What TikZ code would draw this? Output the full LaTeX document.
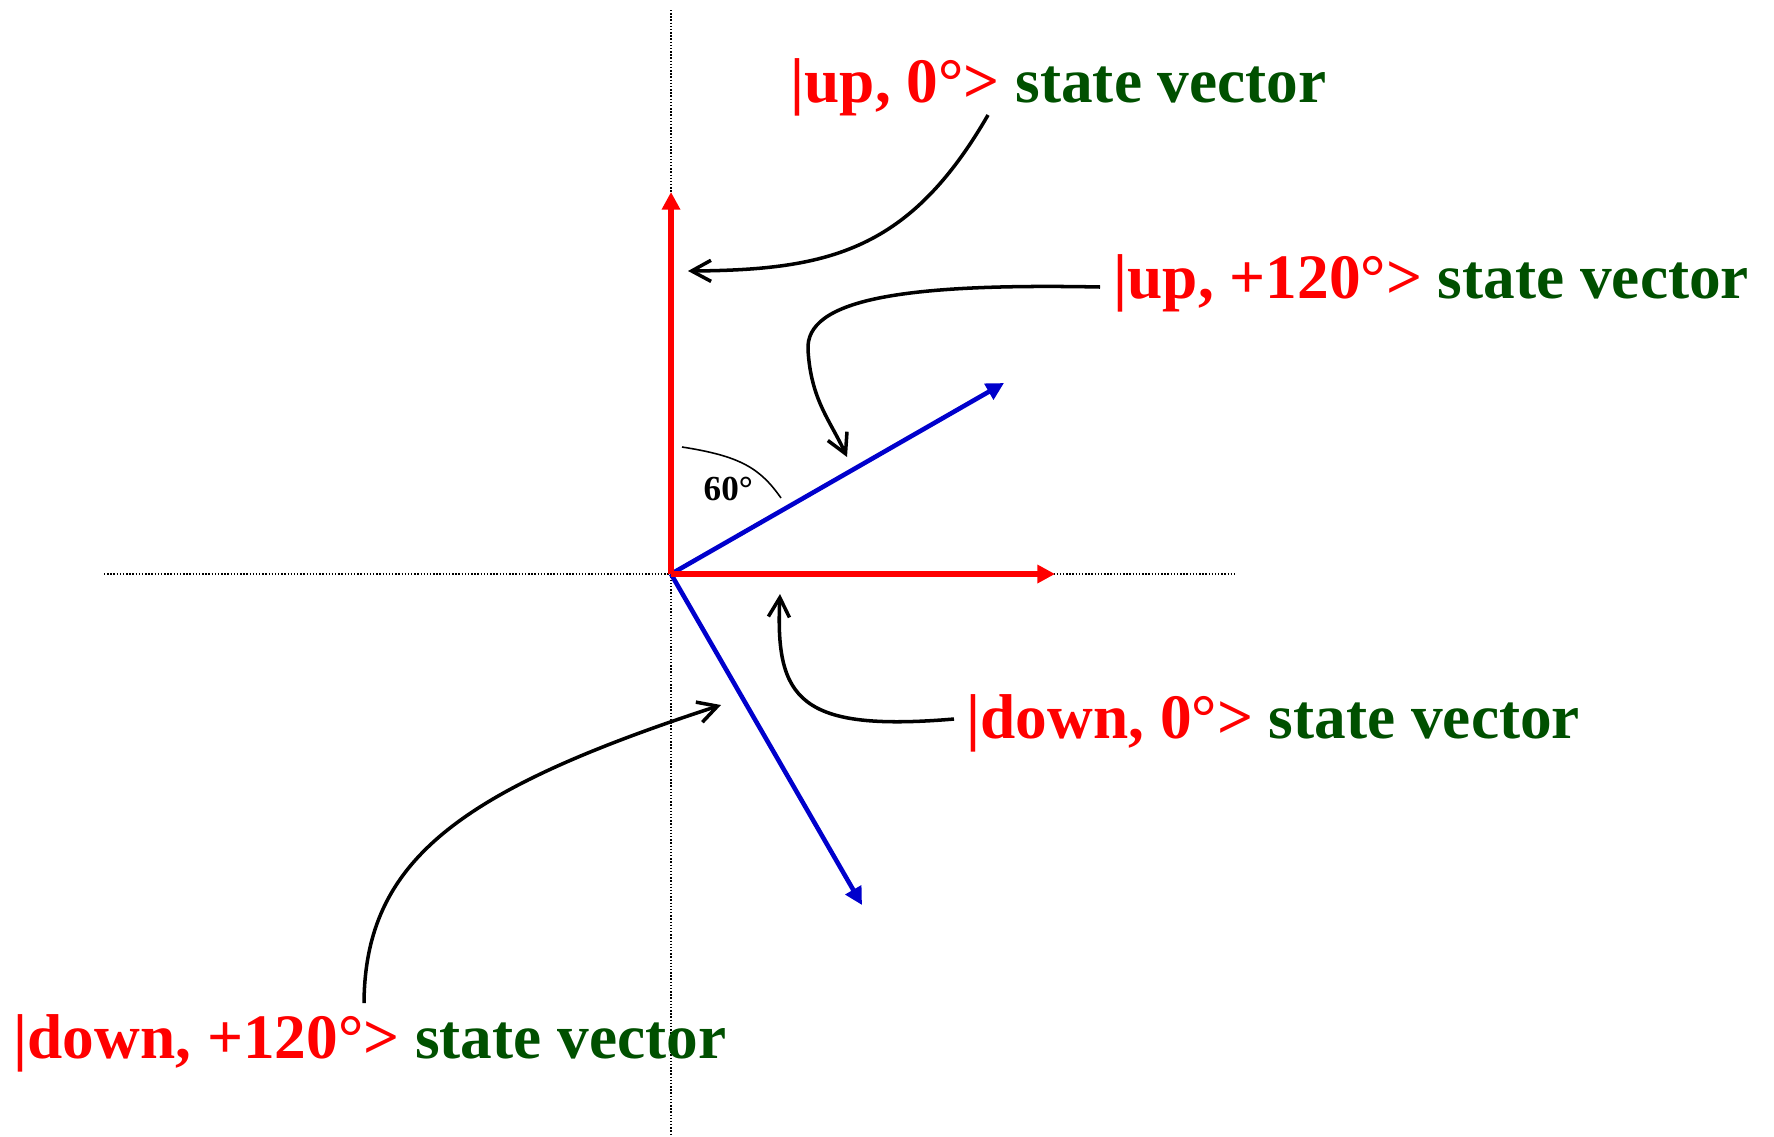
\documentclass[tikz,border=0pt]{standalone}
\usepackage{fontspec}
\setmainfont{Liberation Serif}
\usetikzlibrary{arrows.meta}
\definecolor{vred}{RGB}{255,0,0}
\definecolor{vgreen}{RGB}{0,80,0}
\definecolor{vblue}{RGB}{0,0,204}
\begin{document}
\begin{tikzpicture}[x=0.01cm,y=-0.01cm,
  axis/.style={line width=0.45pt, dash pattern=on 0.4pt off 0.5pt},
  redvec/.style={vred, line width=1.55pt, -{Triangle[length=5pt,width=5pt]}},
  bluevec/.style={vblue, line width=1.3pt, -{Triangle[length=5pt,width=5pt]}},
  pointer/.style={black, line width=1pt, -{Straight Barb[length=5.5pt,width=6pt]}},
  statelabel/.style={anchor=base west, inner sep=0pt, font=\fontsize{18}{21}\selectfont\bfseries},
]
\useasboundingbox (0,0) rectangle (1774,1136);
% axes
\coordinate (vtop) at (671,10);
\coordinate (vbot) at (671,1136);
\coordinate (hl) at (104,574);
\coordinate (hr) at (1235,574);
\draw[axis] (vtop) -- (vbot);
\draw[axis] (hl) -- (hr);
% vectors
\coordinate (O) at (671,574);
\coordinate (up0) at (671,192);
\coordinate (dn0) at (1055,574);
\coordinate (up120) at (1004,383);
\coordinate (dn120) at (862,905);
\draw[bluevec] (O) -- (up120);
\draw[bluevec] (O) -- (dn120);
\draw[redvec] (O) -- (up0);
\draw[redvec] (O) -- (dn0);
% angle mark
\coordinate (a1) at (682,447);
\coordinate (a2) at (781,498);
\draw[line width=0.45pt] (a1) .. controls (740,456) and (760,468) .. (a2);
\node[anchor=base west, inner sep=0pt, font=\fontsize{10}{12}\selectfont\bfseries] (ang) at (703,500) {60°};
% labels
\node[statelabel] (l1) at (790,102) {\textcolor{vred}{|up, 0°>} \textcolor{vgreen}{state vector}};
\node[statelabel] (l2) at (1113,298) {\textcolor{vred}{|up, +120°>} \textcolor{vgreen}{state vector}};
\node[statelabel] (l3) at (966,738) {\textcolor{vred}{|down, 0°>} \textcolor{vgreen}{state vector}};
\node[statelabel] (l4) at (13,1058) {\textcolor{vred}{|down, +120°>} \textcolor{vgreen}{state vector}};
% pointers
\coordinate (c1s) at (988,115);
\coordinate (c1e) at (688,271);
\draw[pointer] (c1s) .. controls (910,250) and (830,270) .. (c1e);
\coordinate (c2s) at (1100,287);
\coordinate (c2m) at (808,350);
\coordinate (c2e) at (847,457);
\draw[pointer] (c2s) .. controls (900,283) and (805,300) .. (c2m) .. controls (811,400) and (830,420) .. (c2e);
\coordinate (c3s) at (954,719);
\coordinate (c3e) at (780,594);
\draw[pointer] (c3s) .. controls (800,732) and (775,700) .. (c3e);
\coordinate (c4s) at (364,1003);
\coordinate (c4e) at (721,705);
\draw[pointer] (c4s) .. controls (365,860) and (460,790) .. (c4e);
\end{tikzpicture}
\end{document}
